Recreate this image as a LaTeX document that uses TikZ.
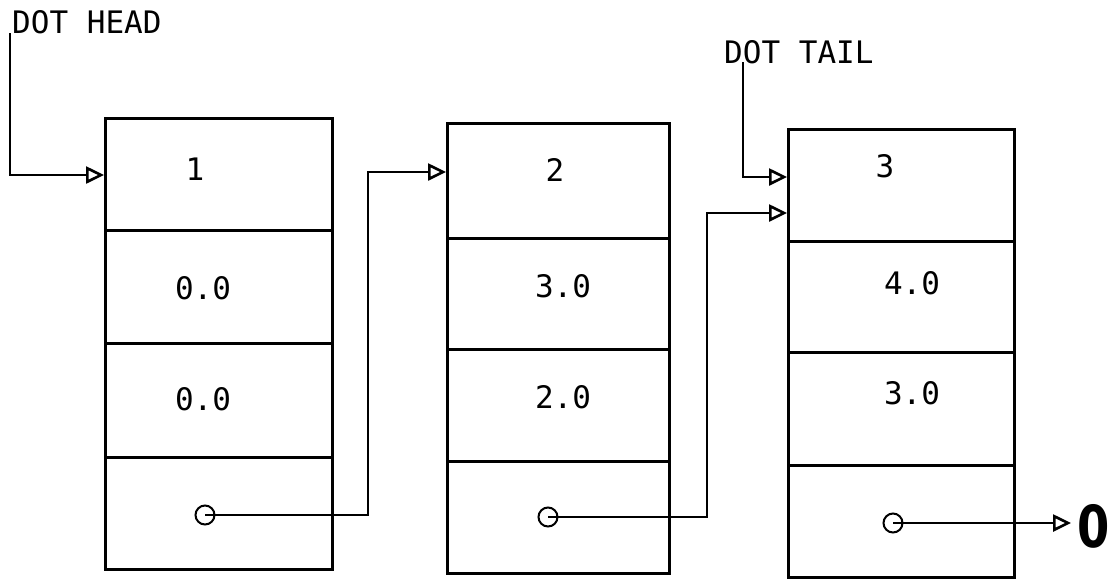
\documentclass[tikz,border=0pt]{standalone}
\usepackage{fontspec}
\setmonofont{DejaVu Sans Mono}
\newfontfamily\boldzero{DejaVu Sans}
\usetikzlibrary{arrows.meta}
\begin{document}
\begin{tikzpicture}[x=1pt,y=-1pt,
  cell/.style={draw, line width=3pt, inner sep=0pt, anchor=north west, minimum width=#1},
  val/.style={font=\ttfamily\fontsize{31}{36}\selectfont, inner sep=0pt},
  lbl/.style={font=\ttfamily\fontsize{31}{36}\selectfont, inner sep=0pt, anchor=west},
  ptr/.style={circle, draw, line width=2pt, minimum size=19pt, inner sep=0pt},
  arr/.style={line width=2.6pt, -{Triangle[open, length=18pt, width=17pt, line width=2.6pt]}},
  wire/.style={line width=2.6pt}]
\useasboundingbox (0,0) rectangle (1111,579);
% box 1
\node[cell=227pt, minimum height=112pt] (b1a) at (104,117) {};
\node[cell=227pt, minimum height=113pt] (b1b) at (104,229) {};
\node[cell=227pt, minimum height=114pt] (b1c) at (104,342) {};
\node[cell=227pt, minimum height=112pt] (b1d) at (104,456) {};
% box 2
\node[cell=222pt, minimum height=115pt] (b2a) at (446,122) {};
\node[cell=222pt, minimum height=111pt] (b2b) at (446,237) {};
\node[cell=222pt, minimum height=112pt] (b2c) at (446,348) {};
\node[cell=222pt, minimum height=112pt] (b2d) at (446,460) {};
% box 3
\node[cell=226pt, minimum height=112pt] (b3a) at (787,128) {};
\node[cell=226pt, minimum height=111pt] (b3b) at (787,240) {};
\node[cell=226pt, minimum height=113pt] (b3c) at (787,351) {};
\node[cell=226pt, minimum height=112pt] (b3d) at (787,464) {};
% values
\node[val] (v11) at (195,169) {1};
\node[val] (v12) at (203,288) {0.0};
\node[val] (v13) at (203,399) {0.0};
\node[val] (v21) at (555,170) {2};
\node[val] (v22) at (563,286) {3.0};
\node[val] (v23) at (563,397) {2.0};
\node[val] (v31) at (885,166) {3};
\node[val] (v32) at (912,283) {4.0};
\node[val] (v33) at (912,393) {3.0};
% pointer circles
\node[ptr] (c1) at (205,515) {};
\node[ptr] (c2) at (548,517) {};
\node[ptr] (c3) at (893,523) {};
% labels
\node[lbl] (dh) at (12,22) {DOT HEAD};
\node[lbl] (dt) at (724,52) {DOT TAIL};
\node[font=\boldzero\bfseries\fontsize{58}{60}\selectfont, inner sep=0pt, xscale=0.8] (zero) at (1094,526) {0};
% coordinates
\coordinate (dhfoot) at (10,33);
\coordinate (dtfoot) at (743,62);
\coordinate (in1) at (104,175);
\coordinate (in2) at (446,172);
\coordinate (in3a) at (787,177);
\coordinate (in3b) at (787,213);
\coordinate (t1) at (368,0);
\coordinate (t2) at (707,0);
\coordinate (end3) at (1071,523);
% connectors
\draw[arr] (dhfoot) |- (in1);
\draw[arr] (dtfoot) |- (in3a);
\draw[arr] (c1.center) -- (c1.center -| t1) |- (in2);
\draw[arr] (c2.center) -- (c2.center -| t2) |- (in3b);
\draw[arr] (c3.center) -- (end3);
\end{tikzpicture}
\end{document}
